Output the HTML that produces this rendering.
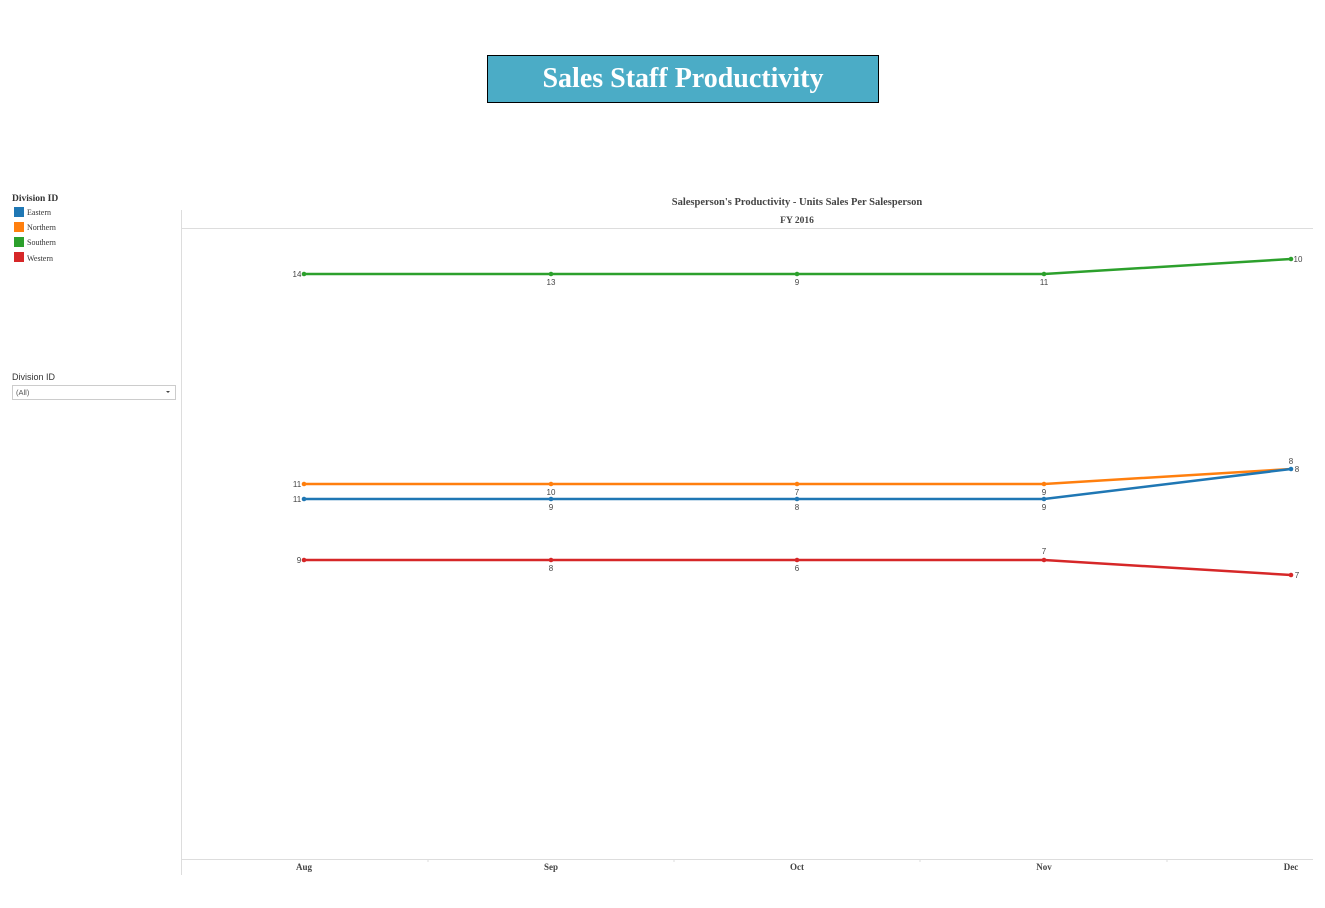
<!DOCTYPE html>
<html><head><style>
body{margin:0;width:1325px;height:908px;background:#fff;overflow:hidden;position:relative;font-family:"Liberation Serif",serif}
.title{position:absolute;left:487px;top:55px;width:390px;height:46px;background:#4bacc6;border:1px solid #000;color:#fff;font-weight:bold;font-size:28px;text-align:center;line-height:46px}
</style></head><body>
<div class="title">Sales Staff Productivity</div>
<svg width="1325" height="908" style="position:absolute;left:0;top:0">
<g font-family="Liberation Serif,serif" font-size="9" fill="#333">
<text x="12" y="201" font-weight="bold" font-size="9.5">Division ID</text>
<rect x="14" y="207" width="10" height="10" fill="#1f77b4"/><text x="27" y="215" font-size="8">Eastern</text>
<rect x="14" y="222" width="10" height="10" fill="#ff7f0e"/><text x="27" y="230" font-size="8">Northern</text>
<rect x="14" y="237" width="10" height="10" fill="#2ca02c"/><text x="27" y="245" font-size="8">Southern</text>
<rect x="14" y="252" width="10" height="10" fill="#d62728"/><text x="27" y="261" font-size="8">Western</text>
</g>
<text x="12" y="380" font-family="Liberation Sans,sans-serif" font-size="9" fill="#333">Division ID</text>
<rect x="12.5" y="385.5" width="163" height="14" fill="#fff" stroke="#ccc"/>
<text x="16" y="395" font-family="Liberation Sans,sans-serif" font-size="7.5" fill="#555">(All)</text>
<path d="M166 391 l4 0 l-2 2z" fill="#444"/>
<line x1="181.5" y1="210" x2="181.5" y2="875" stroke="#ddd"/>
<line x1="181" y1="228.5" x2="1313" y2="228.5" stroke="#ddd"/>
<line x1="181" y1="859.5" x2="1313" y2="859.5" stroke="#ddd"/>
<g stroke="#ddd"><line x1="428" y1="859" x2="428" y2="862"/><line x1="674" y1="859" x2="674" y2="862"/><line x1="920" y1="859" x2="920" y2="862"/><line x1="1167" y1="859" x2="1167" y2="862"/></g>
<g font-family="Liberation Serif,serif" font-weight="bold" fill="#444" text-anchor="middle">
<text x="797" y="205" font-size="10.5">Salesperson's Productivity - Units Sales Per Salesperson</text>
<text x="797" y="223" font-size="9.5">FY 2016</text>
<g font-size="9"><text x="304" y="870">Aug</text><text x="551" y="870">Sep</text><text x="797" y="870">Oct</text><text x="1044" y="870">Nov</text><text x="1291" y="870">Dec</text></g>
</g>
<g fill="none" stroke-width="2.5">
<polyline points="304,274 551,274 797,274 1044,274 1291,259" stroke="#2ca02c"/>
<polyline points="304,484 551,484 797,484 1044,484 1291,469" stroke="#ff7f0e"/>
<polyline points="304,499 551,499 797,499 1044,499 1291,469" stroke="#1f77b4"/>
<polyline points="304,560 551,560 797,560 1044,560 1291,575" stroke="#d62728"/>
</g>
<g>
<g fill="#2ca02c"><circle cx="304" cy="274" r="2.3"/><circle cx="551" cy="274" r="2.3"/><circle cx="797" cy="274" r="2.3"/><circle cx="1044" cy="274" r="2.3"/><circle cx="1291" cy="259" r="2.3"/></g>
<g fill="#ff7f0e"><circle cx="304" cy="484" r="2.3"/><circle cx="551" cy="484" r="2.3"/><circle cx="797" cy="484" r="2.3"/><circle cx="1044" cy="484" r="2.3"/></g>
<g fill="#1f77b4"><circle cx="304" cy="499" r="2.3"/><circle cx="551" cy="499" r="2.3"/><circle cx="797" cy="499" r="2.3"/><circle cx="1044" cy="499" r="2.3"/><circle cx="1291" cy="469" r="2.3"/></g>
<g fill="#d62728"><circle cx="304" cy="560" r="2.3"/><circle cx="551" cy="560" r="2.3"/><circle cx="797" cy="560" r="2.3"/><circle cx="1044" cy="560" r="2.3"/><circle cx="1291" cy="575" r="2.3"/></g>
</g>
<g font-family="Liberation Sans,sans-serif" font-size="8" fill="#444" text-anchor="middle">
<text x="297" y="277">14</text><text x="551" y="285">13</text><text x="797" y="285">9</text><text x="1044" y="285">11</text><text x="1298" y="262">10</text>
<text x="297" y="487">11</text><text x="551" y="495">10</text><text x="797" y="495">7</text><text x="1044" y="495">9</text><text x="1291" y="464">8</text>
<text x="297" y="502">11</text><text x="551" y="510">9</text><text x="797" y="510">8</text><text x="1044" y="510">9</text><text x="1297" y="472">8</text>
<text x="299" y="563">9</text><text x="551" y="571">8</text><text x="797" y="571">6</text><text x="1044" y="554">7</text><text x="1297" y="578">7</text>
</g>
</svg>
</body></html>
